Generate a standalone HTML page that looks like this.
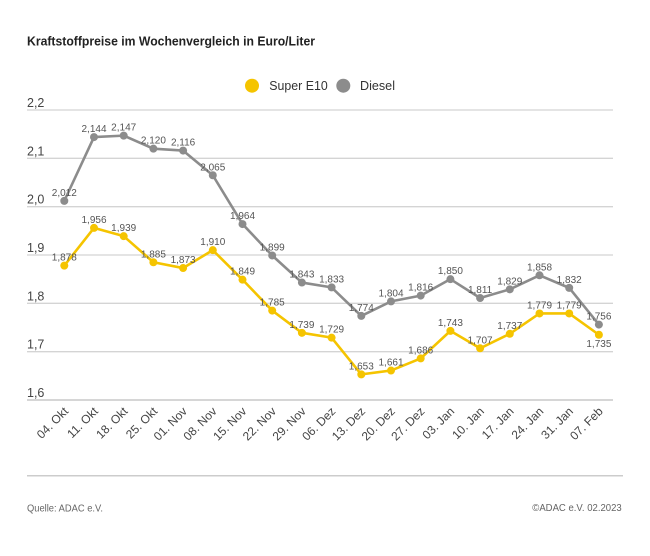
<!DOCTYPE html>
<html>
<head>
<meta charset="utf-8">
<style>
html,body{margin:0;padding:0;background:#fff;}
svg{display:block;}
text{font-family:"Liberation Sans",sans-serif;}
</style>
</head>
<body>
<svg width="650" height="556" viewBox="0 0 650 556" xmlns="http://www.w3.org/2000/svg">
<rect width="650" height="556" fill="#fff"/>
<!-- title -->
<text x="27" y="45.5" font-size="12.5" font-weight="bold" fill="#222" textLength="288" lengthAdjust="spacingAndGlyphs">Kraftstoffpreise im Wochenvergleich in Euro/Liter</text>
<!-- legend -->
<circle cx="252" cy="85.7" r="7" fill="#F5C400"/>
<text x="269.3" y="90" font-size="12.5" fill="#333" textLength="58.4" lengthAdjust="spacingAndGlyphs">Super E10</text>
<circle cx="343.3" cy="85.7" r="7" fill="#8C8C8C"/>
<text x="360" y="90" font-size="12.5" fill="#333" textLength="35" lengthAdjust="spacingAndGlyphs">Diesel</text>
<!-- gridlines -->
<g stroke="#d4d4d4" stroke-width="1.3">
<line x1="27" y1="110" x2="613" y2="110"/>
<line x1="27" y1="158.3" x2="613" y2="158.3"/>
<line x1="27" y1="206.7" x2="613" y2="206.7"/>
<line x1="27" y1="255" x2="613" y2="255"/>
<line x1="27" y1="303.3" x2="613" y2="303.3"/>
<line x1="27" y1="351.7" x2="613" y2="351.7"/>
</g>
<line x1="27" y1="400" x2="613" y2="400" stroke="#c8c8c8" stroke-width="1.6"/>
<!-- y labels -->
<g font-size="12.5" fill="#444">
<text x="27" y="107">2,2</text>
<text x="27" y="155.3">2,1</text>
<text x="27" y="203.7">2,0</text>
<text x="27" y="252">1,9</text>
<text x="27" y="300.3">1,8</text>
<text x="27" y="348.7">1,7</text>
<text x="27" y="397">1,6</text>
</g>
<!-- Diesel series -->
<polyline fill="none" stroke="#8C8C8C" stroke-width="2.6" stroke-linejoin="round" points="64.3,200.87 94.0,137.07 123.7,135.62 153.4,148.67 183.1,150.6 212.8,175.25 242.5,224.07 272.2,255.48 301.9,282.55 331.6,287.38 361.3,315.9 391.0,301.4 420.7,295.6 450.4,279.17 480.1,298.02 509.8,289.32 539.5,275.3 569.2,287.87 598.9,324.6"/>
<g fill="#8C8C8C">
<circle cx="64.3" cy="200.87" r="4"/><circle cx="94.0" cy="137.07" r="4"/><circle cx="123.7" cy="135.62" r="4"/><circle cx="153.4" cy="148.67" r="4"/><circle cx="183.1" cy="150.6" r="4"/><circle cx="212.8" cy="175.25" r="4"/><circle cx="242.5" cy="224.07" r="4"/><circle cx="272.2" cy="255.48" r="4"/><circle cx="301.9" cy="282.55" r="4"/><circle cx="331.6" cy="287.38" r="4"/><circle cx="361.3" cy="315.9" r="4"/><circle cx="391.0" cy="301.4" r="4"/><circle cx="420.7" cy="295.6" r="4"/><circle cx="450.4" cy="279.17" r="4"/><circle cx="480.1" cy="298.02" r="4"/><circle cx="509.8" cy="289.32" r="4"/><circle cx="539.5" cy="275.3" r="4"/><circle cx="569.2" cy="287.87" r="4"/><circle cx="598.9" cy="324.6" r="4"/>
</g>
<!-- Super E10 series -->
<polyline fill="none" stroke="#F5C400" stroke-width="2.6" stroke-linejoin="round" points="64.3,265.63 94.0,227.93 123.7,236.15 153.4,262.25 183.1,268.05 212.8,250.17 242.5,279.65 272.2,310.58 301.9,332.82 331.6,337.65 361.3,374.38 391.0,370.52 420.7,358.43 450.4,330.88 480.1,348.28 509.8,333.78 539.5,313.48 569.2,313.48 598.9,334.75"/>
<g fill="#F5C400">
<circle cx="64.3" cy="265.63" r="4"/><circle cx="94.0" cy="227.93" r="4"/><circle cx="123.7" cy="236.15" r="4"/><circle cx="153.4" cy="262.25" r="4"/><circle cx="183.1" cy="268.05" r="4"/><circle cx="212.8" cy="250.17" r="4"/><circle cx="242.5" cy="279.65" r="4"/><circle cx="272.2" cy="310.58" r="4"/><circle cx="301.9" cy="332.82" r="4"/><circle cx="331.6" cy="337.65" r="4"/><circle cx="361.3" cy="374.38" r="4"/><circle cx="391.0" cy="370.52" r="4"/><circle cx="420.7" cy="358.43" r="4"/><circle cx="450.4" cy="330.88" r="4"/><circle cx="480.1" cy="348.28" r="4"/><circle cx="509.8" cy="333.78" r="4"/><circle cx="539.5" cy="313.48" r="4"/><circle cx="569.2" cy="313.48" r="4"/><circle cx="598.9" cy="334.75" r="4"/>
</g>
<!-- Diesel labels -->
<g font-size="10" fill="#555" text-anchor="middle">
<text x="64.3" y="195.9">2,012</text>
<text x="94.0" y="132.1">2,144</text>
<text x="123.7" y="130.6">2,147</text>
<text x="153.4" y="143.7">2,120</text>
<text x="183.1" y="145.6">2,116</text>
<text x="212.8" y="170.3">2,065</text>
<text x="242.5" y="219.1">1,964</text>
<text x="272.2" y="250.5">1,899</text>
<text x="301.9" y="277.6">1,843</text>
<text x="331.6" y="282.4">1,833</text>
<text x="361.3" y="310.9">1,774</text>
<text x="391.0" y="296.4">1,804</text>
<text x="420.7" y="290.6">1,816</text>
<text x="450.4" y="274.2">1,850</text>
<text x="480.1" y="293.0">1,811</text>
<text x="509.8" y="284.3">1,829</text>
<text x="539.5" y="270.3">1,858</text>
<text x="569.2" y="282.9">1,832</text>
<text x="598.9" y="319.6">1,756</text>
</g>
<!-- Super E10 labels -->
<g font-size="10" fill="#555" text-anchor="middle">
<text x="64.3" y="260.6">1,878</text>
<text x="94.0" y="222.9">1,956</text>
<text x="123.7" y="231.2">1,939</text>
<text x="153.4" y="257.3">1,885</text>
<text x="183.1" y="263.1">1,873</text>
<text x="212.8" y="245.2">1,910</text>
<text x="242.5" y="274.7">1,849</text>
<text x="272.2" y="305.6">1,785</text>
<text x="301.9" y="327.8">1,739</text>
<text x="331.6" y="332.7">1,729</text>
<text x="361.3" y="369.4">1,653</text>
<text x="391.0" y="365.5">1,661</text>
<text x="420.7" y="353.4">1,686</text>
<text x="450.4" y="325.9">1,743</text>
<text x="480.1" y="343.3">1,707</text>
<text x="509.8" y="328.8">1,737</text>
<text x="539.5" y="308.5">1,779</text>
<text x="569.2" y="308.5">1,779</text>
<text x="598.9" y="346.8">1,735</text>
</g>
<!-- x labels -->
<g font-size="12" fill="#444" text-anchor="end">
<text transform="translate(69.0,412) rotate(-45)">04. Okt</text>
<text transform="translate(98.7,412) rotate(-45)">11. Okt</text>
<text transform="translate(128.4,412) rotate(-45)">18. Okt</text>
<text transform="translate(158.1,412) rotate(-45)">25. Okt</text>
<text transform="translate(187.8,412) rotate(-45)">01. Nov</text>
<text transform="translate(217.5,412) rotate(-45)">08. Nov</text>
<text transform="translate(247.2,412) rotate(-45)">15. Nov</text>
<text transform="translate(276.9,412) rotate(-45)">22. Nov</text>
<text transform="translate(306.6,412) rotate(-45)">29. Nov</text>
<text transform="translate(336.3,412) rotate(-45)">06. Dez</text>
<text transform="translate(366.0,412) rotate(-45)">13. Dez</text>
<text transform="translate(395.7,412) rotate(-45)">20. Dez</text>
<text transform="translate(425.4,412) rotate(-45)">27. Dez</text>
<text transform="translate(455.1,412) rotate(-45)">03. Jan</text>
<text transform="translate(484.8,412) rotate(-45)">10. Jan</text>
<text transform="translate(514.5,412) rotate(-45)">17. Jan</text>
<text transform="translate(544.2,412) rotate(-45)">24. Jan</text>
<text transform="translate(573.9,412) rotate(-45)">31. Jan</text>
<text transform="translate(603.6,412) rotate(-45)">07. Feb</text>
</g>
<!-- footer -->
<line x1="27" y1="475.7" x2="623" y2="475.7" stroke="#cccccc" stroke-width="1.5"/>
<text x="27" y="511.5" font-size="10" fill="#666" textLength="76" lengthAdjust="spacingAndGlyphs">Quelle: ADAC e.V.</text>
<text x="532.3" y="511" font-size="10" fill="#666" textLength="89.4" lengthAdjust="spacingAndGlyphs">©ADAC e.V. 02.2023</text>
</svg>
</body>
</html>
